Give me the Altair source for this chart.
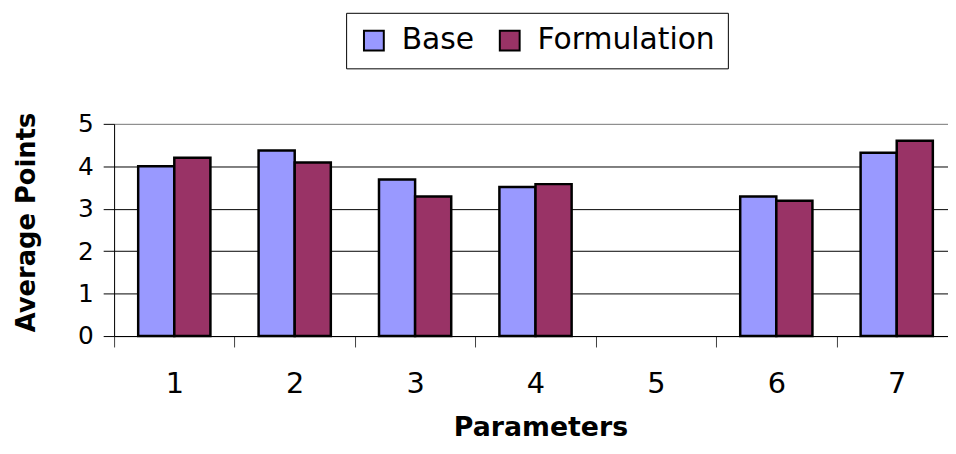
import altair as alt
import pandas as pd

params = ["1", "2", "3", "4", "5", "6", "7"]
series = ["Base", "Formulation"]
base = [4.0, 4.37, 3.69, 3.51, None, 3.29, 4.32]
formulation = [4.2, 4.09, 3.29, 3.58, None, 3.19, 4.6]
colors = ["#9999FF", "#993366"]
y_ticks = [0, 1, 2, 3, 4, 5]

rows = []
for p, b, f in zip(params, base, formulation):
    if b is not None:
        rows.append({"Parameter": p, "Series": "Base", "Value": b})
    if f is not None:
        rows.append({"Parameter": p, "Series": "Formulation", "Value": f})
df = pd.DataFrame(rows)

FONT = "DejaVu Sans"

chart = alt.Chart(df).mark_bar(stroke="black", strokeWidth=2.5).encode(
    x=alt.X(
        "Parameter:N",
        sort=params,
        scale=alt.Scale(domain=params, paddingInner=0, paddingOuter=0, rangeMax=850),
        axis=alt.Axis(
            title="Parameters",
            labelAngle=0,
            labelFont=FONT,
            labelFontSize=29,
            labelColor="black",
            labelPadding=23,
            tickBand="extent",
            tickSize=11,
            tickColor="#404040",
            domainColor="black",
            grid=False,
            titleFont=FONT,
            titleFontSize=27,
            titleFontWeight="bold",
            titleColor="black",
            titleX=430,
            titleY=100,
            titleAlign="center",
            titleBaseline="alphabetic",
        ),
    ),
    xOffset=alt.XOffset("Series:N", sort=series, scale=alt.Scale(paddingInner=0, paddingOuter=0.667)),
    y=alt.Y(
        "Value:Q",
        scale=alt.Scale(domain=[0, 5], nice=False),
        axis=alt.Axis(
            title="Average Points",
            values=y_ticks,
            labelFont=FONT,
            labelFontSize=25,
            labelColor="black",
            labelPadding=10,
            tickSize=11,
            tickColor="black",
            domainColor="black",
            grid=True,
            gridColor=alt.condition("datum.value == 5", alt.value("#808080"), alt.value("black")),
            gridWidth=1,
            titleFont=FONT,
            titleFontSize=26,
            titleFontWeight="bold",
            titleColor="black",
            titleAngle=270,
            titleX=-88,
            titleY=99,
            titleAlign="center",
            titleBaseline="middle",
        ),
    ),
    color=alt.Color(
        "Series:N",
        scale=alt.Scale(domain=series, range=colors),
        legend=alt.Legend(
            title=None,
            orient="none",
            legendX=234,
            legendY=-112,
            direction="horizontal",
            symbolType="square",
            symbolSize=400,
            symbolStrokeColor="black",
            symbolStrokeWidth=2,
            labelFont=FONT,
            labelFontSize=30,
            labelColor="black",
            labelOffset=13,
            labelLimit=400,
            columnPadding=20,
            padding=13,
            strokeColor="black",
            fillColor="white",
        ),
    ),
).properties(
    width=841,
    height=214,
    autosize=alt.AutoSizeParams(type="none"),
    padding={"left": 107, "top": 115, "right": 0, "bottom": 105},
).configure_view(
    fill="#C0C0C0",
    stroke=None,
).configure(background="white")

chart.save("out.html", embed_options={"renderer": "svg", "actions": False})
